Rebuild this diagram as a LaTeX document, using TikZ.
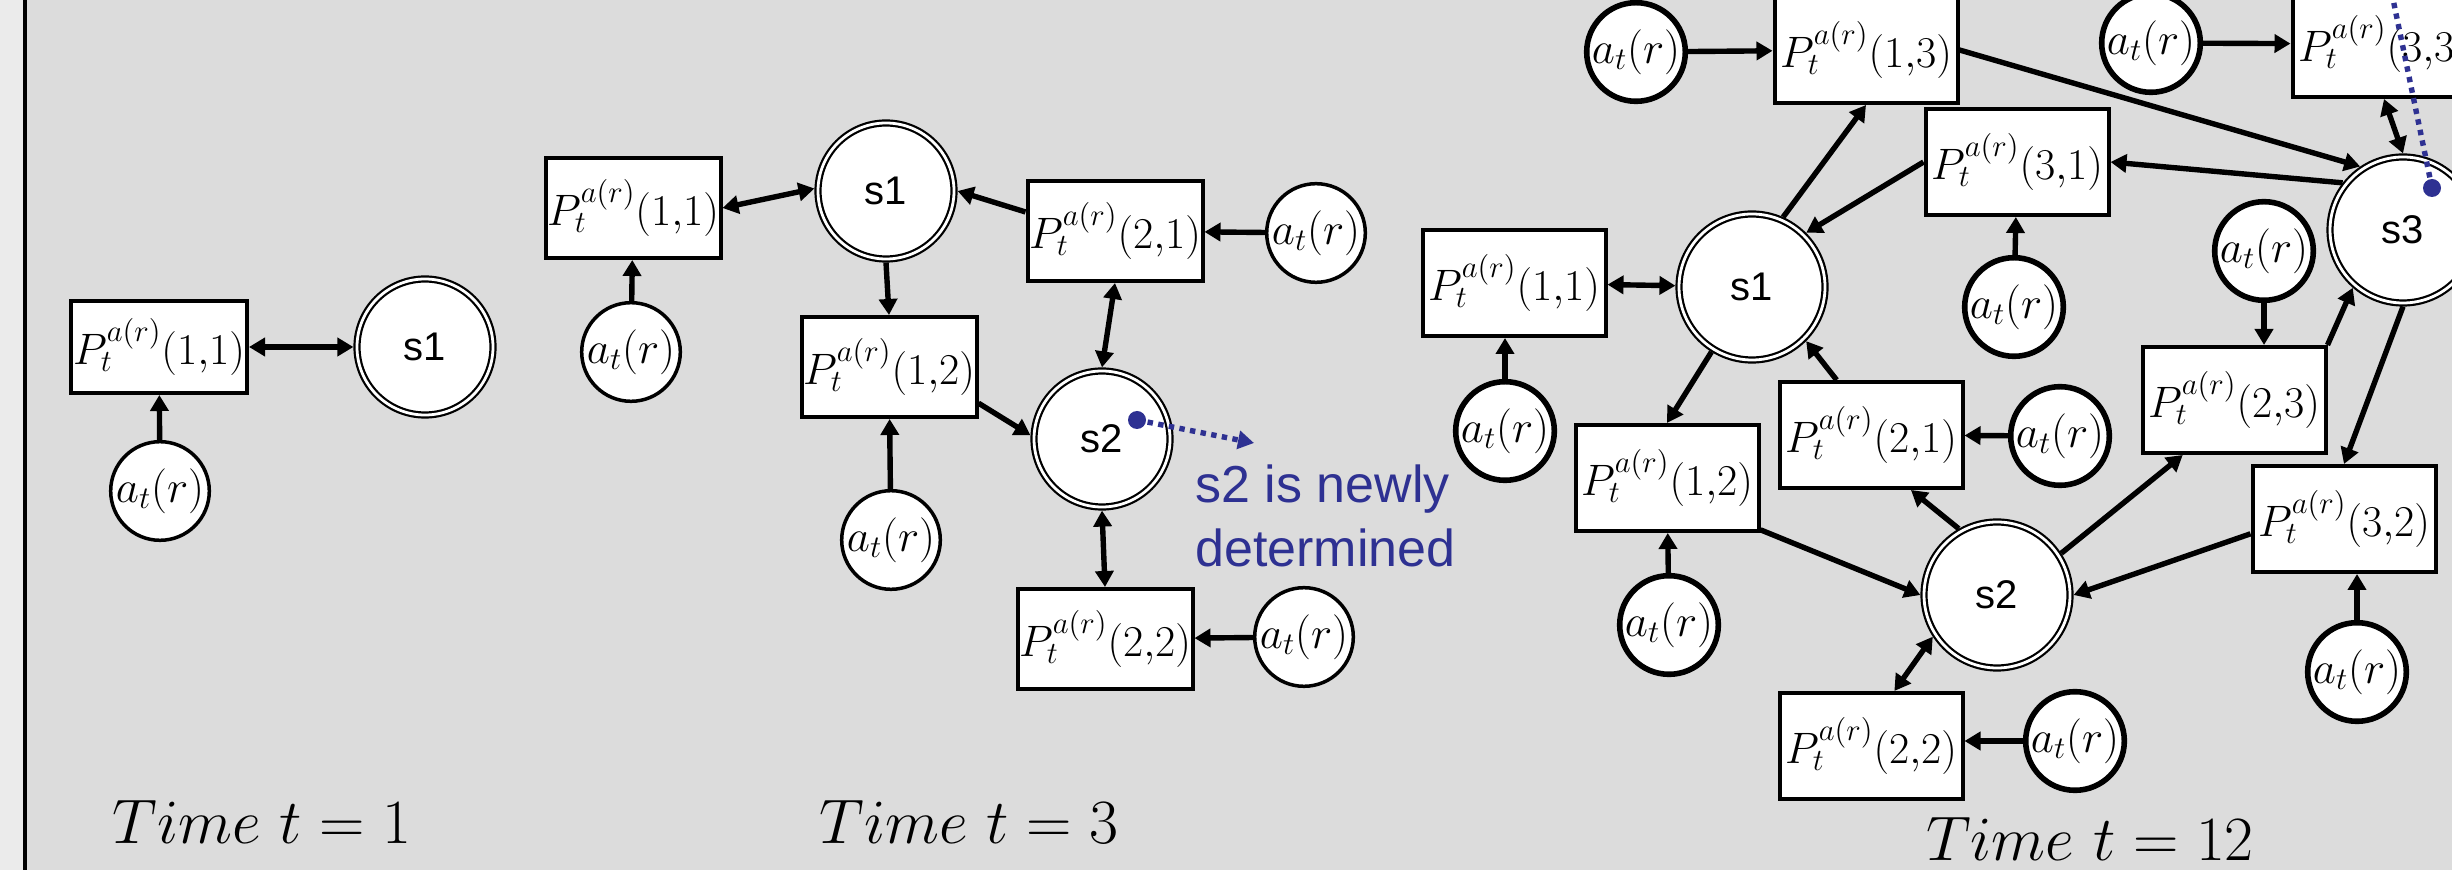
\RequirePackage{fix-cm}
\documentclass[tikz,border=0pt]{standalone}
\usepackage{fontspec}
\newfontfamily\arialf{Liberation Sans}
\usetikzlibrary{arrows.meta}
\definecolor{bgc}{RGB}{220,220,220}
\definecolor{leftc}{RGB}{235,235,235}
\definecolor{noteblue}{RGB}{46,49,146}
\begin{document}
\begin{tikzpicture}[x=0.5pt,y=-0.5pt,
  pbox/.style={draw, fill=white, line width=2pt, inner sep=0pt, font=\fontsize{22}{26}\selectfont},
  pA/.style={pbox, minimum width=88pt, minimum height=46pt},
  pB/.style={pbox, minimum width=87.5pt, minimum height=50pt},
  pC/.style={pbox, minimum width=91.5pt, minimum height=53pt},
  acirc/.style={circle, draw, fill=white, inner sep=0pt, font=\fontsize{22.5}{26}\selectfont},
  aA/.style={acirc, line width=1.75pt, minimum size=45pt},
  aC/.style={acirc, line width=2.8pt, minimum size=47.5pt},
  scirc/.style={circle, draw, double=white, double distance=1.4pt, line width=1.1pt, fill=white, inner sep=0pt, outer sep=1.8pt, font=\arialf\fontsize{20}{24}\selectfont},
  sA/.style={scirc, minimum size=68pt},
  sC/.style={scirc, minimum size=73pt},
  con/.style={line width=2.7pt, -{Triangle[length=8pt,width=9pt]}},
  bicon/.style={line width=2.7pt, {Triangle[length=8pt,width=9pt]}-{Triangle[length=8pt,width=9pt]}},
  timelbl/.style={anchor=base, inner sep=0pt, font=\fontsize{31.5}{38}\selectfont},
  notetxt/.style={anchor=base west, inner sep=0pt, text=noteblue, font=\arialf\fontsize{26}{32}\selectfont},
  bluedot/.style={circle, fill=noteblue, inner sep=0pt, minimum size=9pt},
  blueline/.style={draw=noteblue, line width=2.7pt, dash pattern=on 2.7pt off 2.7pt},
  bluetip/.style={-{Triangle[length=8pt,width=9pt]}}
]
\useasboundingbox (0,0) rectangle (2452,870);
\clip (0,0) rectangle (2452,870);
\fill[bgc] (0,0) rectangle (2452,870);
\fill[leftc] (0,0) rectangle (24,870);
\draw[line width=2pt] (24.5,0) -- (24.5,870);

% ---------- Panel 1 ----------
\node[pA] (a11) at (159,347) {$P_t^{a(r)}(1{,}1)$};
\node[sA] (as1) at (425,347) {s1};
\node[aA] (aa11) at (160,491) {$a_t(r)$};
\node[timelbl] (t1) at (262,843) {$Time\ t = 1$};

% ---------- Panel 2 ----------
\node[pB] (b11) at (633,208) {$P_t^{a(r)}(1{,}1)$};
\node[sA] (bs1) at (886,191) {s1};
\node[aA] (ba11) at (631,352) {$a_t(r)$};
\node[pB] (b12) at (889,367) {$P_t^{a(r)}(1{,}2)$};
\node[pB] (b21) at (1115,231) {$P_t^{a(r)}(2{,}1)$};
\node[aA] (ba21) at (1316,233) {$a_t(r)$};
\node[sA] (bs2) at (1102,439) {s2};
\node[aA] (ba12) at (891,540) {$a_t(r)$};
\node[pB] (b22) at (1105,639) {$P_t^{a(r)}(2{,}2)$};
\node[aA] (ba22) at (1304,637) {$a_t(r)$};
\node[notetxt] (note1) at (1195,503) {s2 is newly};
\node[notetxt] (note2) at (1195,567) {determined};
\node[timelbl] (t3) at (969,843) {$Time\ t = 3$};

% ---------- Panel 3 ----------
\node[aC] (ca13) at (1636,52) {$a_t(r)$};
\node[pC] (c13) at (1866,50) {$P_t^{a(r)}(1{,}3)$};
\node[aC] (ca33) at (2151,43) {$a_t(r)$};
\node[pC] (c33) at (2384,44) {$P_t^{a(r)}(3{,}3)$};
\node[pC] (c31) at (2017,162) {$P_t^{a(r)}(3{,}1)$};
\node[aC] (ca31) at (2014,307) {$a_t(r)$};
\node[pC] (c11) at (1514,283) {$P_t^{a(r)}(1{,}1)$};
\node[aC] (ca11) at (1505,431) {$a_t(r)$};
\node[sC] (cs1) at (1752,287) {s1};
\node[pC] (c12) at (1667,478) {$P_t^{a(r)}(1{,}2)$};
\node[aC] (ca12) at (1669,625) {$a_t(r)$};
\node[pC] (c21) at (1871,435) {$P_t^{a(r)}(2{,}1)$};
\node[aC] (ca21) at (2060,436) {$a_t(r)$};
\node[sC] (cs2) at (1997,595) {s2};
\node[pC] (c22) at (1871,746) {$P_t^{a(r)}(2{,}2)$};
\node[aC] (ca22) at (2075,741) {$a_t(r)$};
\node[pC] (c23) at (2234,400) {$P_t^{a(r)}(2{,}3)$};
\node[aC] (ca23) at (2264,251) {$a_t(r)$};
\node[sC] (cs3) at (2403,230) {s3};
\node[pC] (c32) at (2344,519) {$P_t^{a(r)}(3{,}2)$};
\node[aC] (ca32) at (2357,672) {$a_t(r)$};
\node[timelbl] (t12) at (2090,860) {$Time\ t = 12$};

% ---------- connectors panel 1 ----------
\draw[con] (aa11) -- (a11);
\draw[bicon] (a11) -- (as1);

% ---------- connectors panel 2 ----------
\draw[con] (ba11) -- (b11);
\draw[bicon] (b11.east) -- (bs1.178);
\draw[con] (bs1.south) -- (b12.north);
\draw[con] (b21.168) -- (bs1.east);
\draw[con] (ba21) -- (b21);
\draw[bicon] (b21.south) -- (bs2.north);
\draw[con] (b12.-22) -- (bs2.177);
\draw[con] (ba12) -- (b12);
\draw[bicon] (bs2.south) -- (b22.north);
\draw[con] (ba22) -- (b22);

% ---------- connectors panel 3 ----------
\draw[con] (ca13) -- (c13);
\draw[con] (c13.east) -- (cs3.124);
\draw[con] (ca33) -- (c33);
\draw[bicon] (c33.south) -- (cs3.north);
\draw[con] (cs3.142) -- (c31.east);
\draw[con] (ca31) -- (c31);
\draw[con] (cs1.66) -- (c13.south);
\draw[con] (c31.west) -- (cs1.45);
\draw[bicon] (c11) -- (cs1);
\draw[con] (ca11.north) -- (ca11.north |- c11.south);
\draw[con] (cs1.238) -- (c12.north);
\draw[con] (c21.122) -- (cs1.-45);
\draw[con] (ca21) -- (c21);
\draw[con] (cs2.120) -- (c21.-54);
\draw[con] (c12.-29) -- (cs2.west);
\draw[con] (ca12) -- (c12);
\draw[con] (cs2.33) -- (c23.227);
\draw[con] (c32.189) -- (cs2.east);
\draw[bicon] (cs2.213) -- (c22.67);
\draw[con] (ca22.west) -- (ca22.west -| c22.east);
\draw[con] (ca23.south) -- (ca23.south |- c23.north);
\draw[con] (c23.north east) -- (cs3.229);
\draw[con] (cs3.south) -- (c32.north);
\draw[con] (ca32.north) -- (ca32.north |- c32.south);

% ---------- blue markers ----------
\node[bluedot] (dot2) at (1137,420) {};
\coordinate (tip2) at (1254,443);
\draw[blueline, bluetip] (dot2.center) -- (tip2);
\node[bluedot] (dot3) at (2432,188) {};
\coordinate (tip3) at (2388,-25);
\draw[blueline, bluetip] (dot3.center) -- (tip3);
\end{tikzpicture}
\end{document}
